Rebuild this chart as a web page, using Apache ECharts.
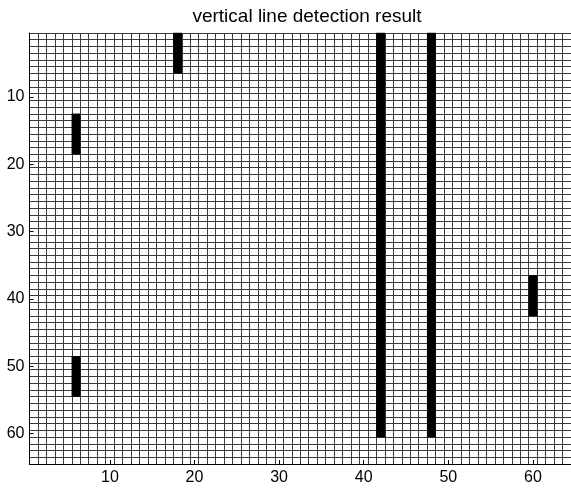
<!DOCTYPE html>
<html>
<head>
<meta charset="utf-8">
<script src="https://cdn.jsdelivr.net/npm/echarts@6/dist/echarts.min.js"></script>
<style>
html, body { margin: 0; padding: 0; background: #fff; }
#container { width: 571px; height: 489px; }
</style>
</head>
<body>
<div id="container"></div>
<script>
// 初始化echarts实例
var myChart = echarts.init(document.getElementById('container'));

// 网格大小 64 x 64
var cols = [];
var rows = [];
for (var i = 1; i <= 64; i++) {
    cols.push(String(i));
    rows.push(String(i));
}
// 检测到的竖线段: 列, 起始行, 结束行
var segCols = [6, 6, 18, 42, 48, 60];
var segStart = [13, 49, 1, 1, 1, 37];
var segEnd = [18, 54, 6, 60, 60, 42];
var tickLabels = ['10', '20', '30', '40', '50', '60'];

// 展开成热力图单元格
var cells = [];
for (var s = 0; s < segCols.length; s++) {
    for (var r = segStart[s]; r <= segEnd[s]; r++) {
        cells.push([segCols[s] - 1, r - 1, 1]);
    }
}

function showTick(index, value) {
    return tickLabels.indexOf(value) >= 0;
}

var option = {
    animation: false,
    backgroundColor: '#fff',
    title: {
        text: 'vertical line detection result',
        left: 302,
        textAlign: 'center',
        top: 2,
        textStyle: {fontFamily: 'Liberation Sans', fontSize: 19, fontWeight: 'normal', color: '#000'}
    },
    grid: {left: 29.5, top: 33, width: 542, height: 431, containLabel: false},
    xAxis: {
        type: 'category',
        data: cols,
        axisLine: {show: true, lineStyle: {color: '#000'}},
        axisTick: {show: true, inside: true, length: 4, alignWithLabel: true, interval: showTick, lineStyle: {color: '#000'}},
        axisLabel: {interval: showTick, color: '#000', fontFamily: 'Liberation Sans', fontSize: 16, margin: 6},
        splitLine: {show: true, interval: 0, lineStyle: {color: '#3a3a3a', width: 1}}
    },
    yAxis: {
        type: 'category',
        data: rows,
        inverse: true,
        axisLine: {show: true, lineStyle: {color: '#000'}},
        axisTick: {show: true, inside: true, length: 4, alignWithLabel: true, interval: showTick, lineStyle: {color: '#000'}},
        axisLabel: {interval: showTick, color: '#000', fontFamily: 'Liberation Sans', fontSize: 16, margin: 5},
        splitLine: {show: true, interval: 0, lineStyle: {color: '#3a3a3a', width: 1}}
    },
    visualMap: {
        show: false,
        min: 0,
        max: 1,
        inRange: {color: ['#000', '#000']}
    },
    series: [{
        type: 'heatmap',
        data: cells,
        itemStyle: {borderWidth: 0},
        emphasis: {disabled: true}
    }]
};
myChart.setOption(option, true);

window.onresize = function () {
    myChart.resize();
};
</script>
</body>
</html>
